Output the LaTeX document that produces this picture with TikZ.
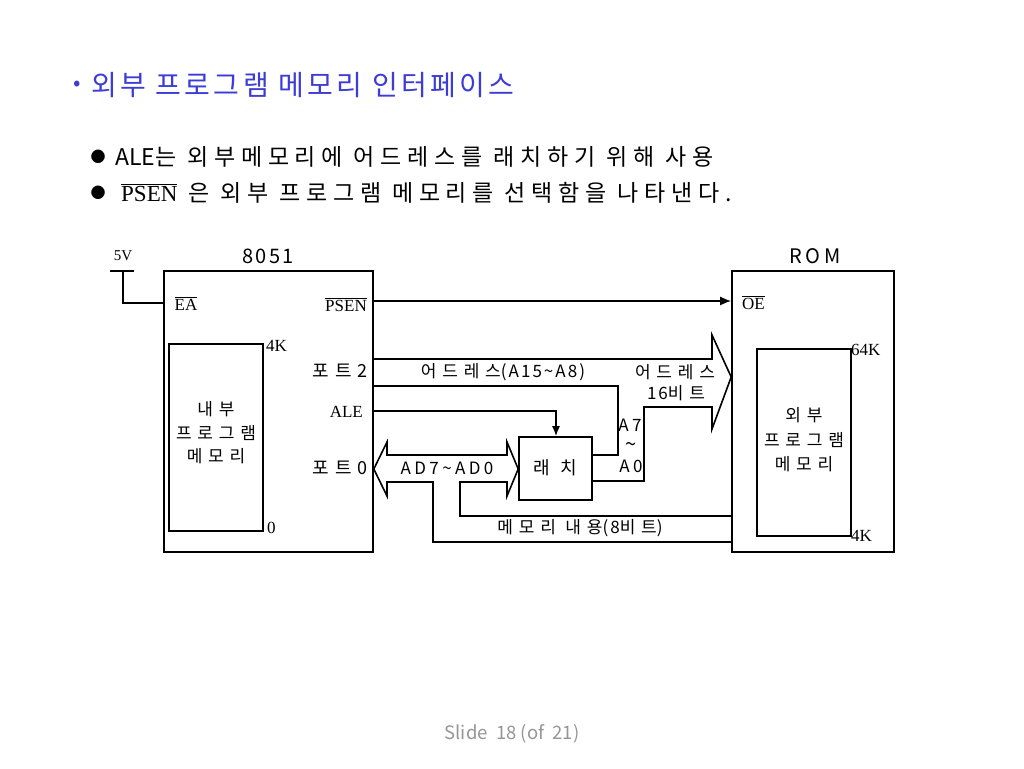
\documentclass[tikz,border=0pt]{standalone}
\usepackage{fontspec}
\setmainfont{Noto Sans CJK KR}
\newfontfamily\kor[LetterSpace=12]{Noto Sans CJK KR}
\newfontfamily\korb[LetterSpace=25]{Noto Sans CJK KR}
\newfontfamily\korl[LetterSpace=34]{Noto Sans CJK KR}
\newfontfamily\kors[LetterSpace=20]{Noto Sans CJK KR}
\newfontfamily\tnr{Liberation Serif}
\newcommand\olbar[2][0.9pt]{{\setbox0\hbox{#2}\rlap{\raisebox{\dimexpr\ht0+1.6pt\relax}{\rule{\wd0}{#1}}}\box0}}
\usetikzlibrary{arrows.meta}
\definecolor{titleblue}{RGB}{60,60,215}
\definecolor{footgray}{RGB}{150,150,150}
\begin{document}
\begin{tikzpicture}[x=1pt,y=-1pt,
  wire/.style={line width=1.6pt, line join=miter},
  boxline/.style={draw, line width=1.6pt},
  lbl/.style={inner sep=0pt, font=\korl\fontsize{17}{19}\selectfont},
  lat/.style={inner sep=0pt, font=\kors\fontsize{17}{19}\selectfont},
  serif/.style={inner sep=0pt, font=\tnr\fontsize{17}{19}\selectfont},
  hd/.style={inner sep=0pt, font=\fontsize{20}{22}\selectfont},
  dot/.style={inner sep=0pt, font=\fontsize{15}{17}\selectfont}]
\useasboundingbox (0,0) rectangle (1024,768);
\fill[white] (0,0) rectangle (1024,768);

% title and bullets
\node[inner sep=0pt, text=titleblue, font=\fontsize{22}{24}\selectfont] (tdot) at (77,86) {•};
\node[anchor=west, inner sep=0pt, text=titleblue, font=\kor\fontsize{28}{30}\selectfont] (title) at (91,85) {외부 프로그램 메모리 인터페이스};
\node[dot] (d1) at (98,157) {●};
\node[anchor=west, inner sep=0pt, font=\korb\fontsize{23}{25}\selectfont] (b1) at (115,157) {{\rmfamily ALE}는 외부메모리에 어드레스를 래치하기 위해 사용};
\node[dot] (d2) at (98,193) {●};
\node[anchor=west, inner sep=0pt, font=\korb\fontsize{23}{25}\selectfont] (b2) at (121,193) {{\tnr\fontsize{23}{25}\selectfont\olbar[1.1pt]{PSEN}} 은 외부 프로그램 메모리를 선택함을 나타낸다.};

% 8051 box
\node[boxline, minimum width=209, minimum height=281, inner sep=0pt] (mcu) at (268.5,411.5) {};
\node[boxline, minimum width=94, minimum height=187, inner sep=0pt] (imem) at (216,437.5) {};
\node[hd, font=\kor\fontsize{20}{22}\selectfont] (t8051) at (268,256) {8051};
\node[lbl, align=center, font=\korl\fontsize{17}{23.5}\selectfont] (imemt) at (216,433) {내부\\프로그램\\메모리};
\node[serif, anchor=west] (k4) at (266,346) {4K};
\node[serif, anchor=west] (k0) at (267,528) {0};
\node[serif] (ea) at (186,304) {\olbar{EA}};
\node[serif, anchor=east] (psen) at (367,305) {\olbar{PSEN}};
\node[lbl, anchor=east, font=\korl\fontsize{18}{20}\selectfont] (p2) at (368,371) {포트2};
\node[serif, anchor=east] (ale) at (363,412) {ALE};
\node[lbl, anchor=east, font=\korl\fontsize{18}{20}\selectfont] (p0) at (368,468) {포트0};

% ROM box
\node[boxline, minimum width=162, minimum height=281, inner sep=0pt] (rom) at (813,411.5) {};
\node[boxline, minimum width=94, minimum height=187, inner sep=0pt] (xmem) at (804,442.5) {};
\node[hd, font=\kors\fontsize{20}{22}\selectfont] (trom) at (815,256) {ROM};
\node[lbl, align=center, font=\korl\fontsize{17}{24.5}\selectfont] (xmemt) at (804,440) {외부\\프로그램\\메모리};
\node[serif, anchor=west] (k64) at (851,350) {64K};
\node[serif, anchor=west] (k4b) at (851,536) {4K};
\node[serif, anchor=west] (oe) at (742,303) {\olbar{OE}};

% latch
\node[boxline, minimum width=73, minimum height=63, inner sep=0pt] (latch) at (555.5,468.5) {};
\node[lbl, font=\korl\fontsize{18}{20}\selectfont] (latcht) at (555,468) {래\ 치};

% 5V
\coordinate (v5l) at (110,271);
\coordinate (v5r) at (134,271);
\coordinate (v5m) at (123,271);
\node[serif, font=\tnr\fontsize{15}{17}\selectfont] (v5) at (123,256) {5V};
\draw[wire] (v5l) -- (v5r);
\draw[wire] (v5m) |- (mcu.west |- 0,303);

% PSEN -> OE
\draw[wire, -{Latex[length=11pt,width=9pt]}] (mcu.east |- 0,301) -- (rom.west |- 0,301);

% address bus arrow (port 2 + A7~A0)
\draw[wire] (mcu.east |- 0,359) -- (712,359) -- (712,335) -- (rom.west |- 0,377) -- (712,429) -- (712,407) -- (644,407) -- (644,481) -- (latch.east |- 0,481);
\draw[wire] (mcu.east |- 0,386) -- (618,386) -- (618,455) -- (latch.east |- 0,455);

% ALE -> latch
\draw[wire, -{Latex[length=10pt,width=8pt]}] (mcu.east |- 0,411) -- (556,411) -- (latch.north -| 556,0);

% AD7~AD0 double arrow and data lines
\draw[wire] (rom.west |- 0,542) -- (433,542) -- (433,482) -- (387,482) -- (387,496) -- (mcu.east |- 0,469) -- (387,442) -- (387,455) -- (507,455) -- (507,442) -- (latch.west |- 0,469) -- (507,496) -- (507,482) -- (460,482) -- (460,516) -- (rom.west |- 0,516);

% bus labels
\node[lbl] (a158) at (503,372) {어드레스{\kor(A15\textasciitilde A8)}};
\node[lbl] (addr) at (675,372) {어드레스};
\node[lbl] (b16) at (676,393) {{\kor 16}비트};
\node[lat] (a7) at (630,425) {A7};
\node[lat, font=\rmfamily\fontsize{20}{20}\selectfont, text height=4pt, text depth=0pt] (til) at (631,449) {\textasciitilde};
\node[lat] (a0) at (631,466) {A0};
\node[lat] (ad) at (447,468) {AD7\textasciitilde AD0};
\node[lbl] (mem8) at (580,528) {메모리 내용{\kor(8}비트{\kor)}};

% footer
\node[inner sep=0pt, text=footgray, font=\fontsize{18.5}{20}\selectfont] (foot) at (512,734) {Slide\ \ 18 (of\ \ 21)};
\end{tikzpicture}
\end{document}
